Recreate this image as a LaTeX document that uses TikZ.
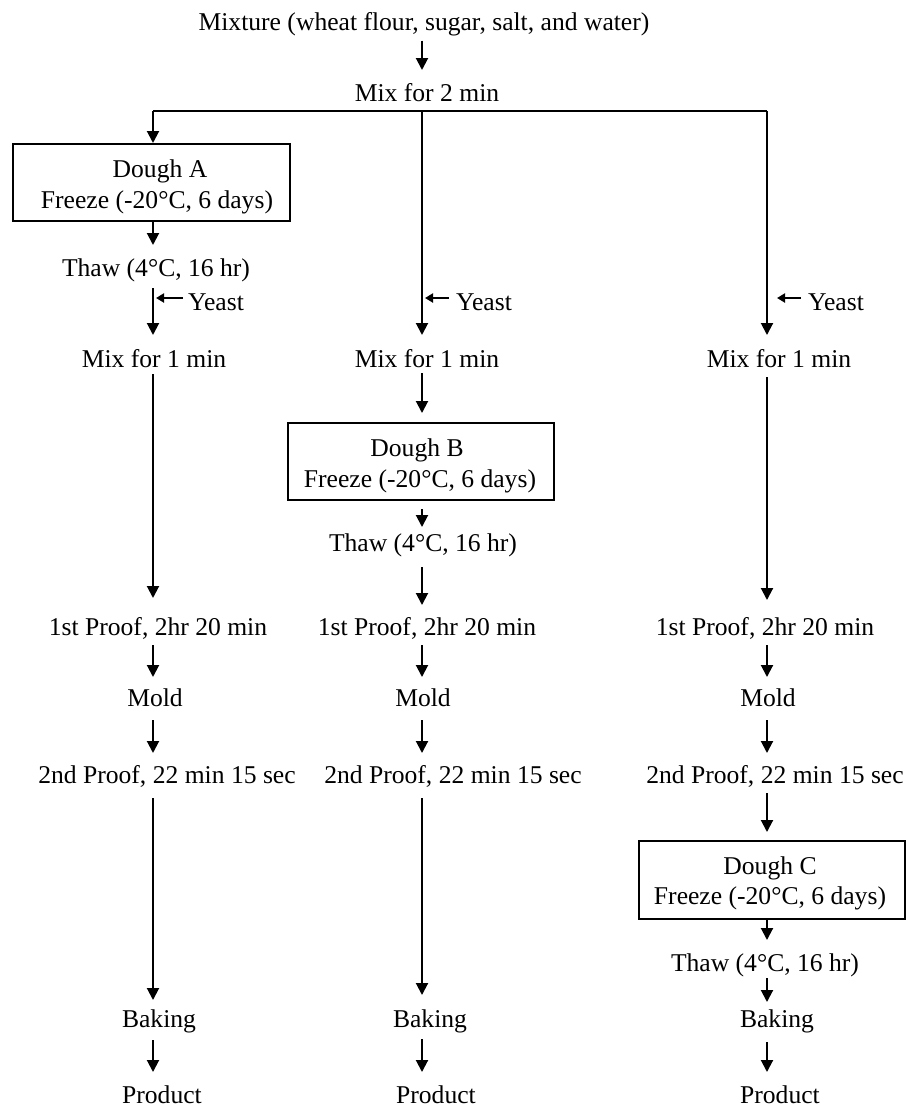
\documentclass[tikz,border=0pt]{standalone}
\usepackage{fontspec}
\setmainfont{Liberation Serif}
\usetikzlibrary{arrows.meta,calc}
\newcommand\dC{°C}
\begin{document}
\begin{tikzpicture}[x=1pt,y=-1pt,
  txt/.style={anchor=base,inner sep=0pt,font=\fontsize{25.6}{31}\selectfont},
  ytxt/.style={txt,anchor=base west},
  frame/.style={draw,line width=2pt,inner sep=0pt,anchor=north west},
  ln/.style={line width=2pt},
  arr/.style={line width=2pt,-{Triangle[width=12pt,length=12pt]}},
  yarr/.style={line width=2pt,-{Triangle[width=9pt,length=8pt]}}]
\useasboundingbox (0,0) rectangle (907,1109);
\coordinate (c1) at (153,0);
\coordinate (c2) at (422,0);
\coordinate (c3) at (767,0);
\coordinate (bar1) at (153,111);
\coordinate (bar2) at (422,111);
\coordinate (bar3) at (767,111);

% top
\node[txt] (mixture) at (424,30.5) {Mixture (wheat flour, sugar, salt, and water)};
\node[txt] (mix2) at (427,101) {Mix for 2 min};

% column 1
\node[frame,minimum width=277pt,minimum height=77pt] (boxA) at (12,143) {};
\node[txt] (doughA) at (160,177) {Dough A};
\node[txt] (freezeA) at (157,208) {Freeze (-20\dC, 6 days)};
\node[txt] (thawA) at (156,276) {Thaw (4\dC, 16 hr)};
\node[ytxt] (yeastA) at (188,310) {Yeast};
\node[txt] (mixA) at (154,367) {Mix for 1 min};
\node[txt] (proofA) at (158,635) {1st Proof, 2hr 20 min};
\node[txt] (moldA) at (155,706) {Mold};
\node[txt] (p2A) at (167,783) {2nd Proof, 22 min 15 sec};
\node[txt] (bakeA) at (159,1027) {Baking};
\node[txt] (prodA) at (162,1103) {Product};

% column 2
\node[ytxt] (yeastB) at (456,310) {Yeast};
\node[txt] (mixB) at (427,367) {Mix for 1 min};
\node[frame,minimum width=266pt,minimum height=77pt] (boxB) at (287,422) {};
\node[txt] (doughB) at (417,456) {Dough B};
\node[txt] (freezeB) at (420,487) {Freeze (-20\dC, 6 days)};
\node[txt] (thawB) at (423,551) {Thaw (4\dC, 16 hr)};
\node[txt] (proofB) at (427,635) {1st Proof, 2hr 20 min};
\node[txt] (moldB) at (423,706) {Mold};
\node[txt] (p2B) at (453,783) {2nd Proof, 22 min 15 sec};
\node[txt] (bakeB) at (430,1027) {Baking};
\node[txt] (prodB) at (436,1103) {Product};

% column 3
\node[ytxt] (yeastC) at (808,310) {Yeast};
\node[txt] (mixC) at (779,367) {Mix for 1 min};
\node[txt] (proofC) at (765,635) {1st Proof, 2hr 20 min};
\node[txt] (moldC) at (768,706) {Mold};
\node[txt] (p2C) at (775,783) {2nd Proof, 22 min 15 sec};
\node[frame,minimum width=266pt,minimum height=78pt] (boxC) at (638,840) {};
\node[txt] (doughC) at (770,874) {Dough C};
\node[txt] (freezeC) at (770,904) {Freeze (-20\dC, 6 days)};
\node[txt] (thawC) at (765,971) {Thaw (4\dC, 16 hr)};
\node[txt] (bakeC) at (777,1027) {Baking};
\node[txt] (prodC) at (780,1103) {Product};

% top connectors
\draw[arr] ($(mixture.base -| c2)+(0,10)$) -- ($(mix2.base -| c2)+(0,-31)$);
\draw[ln] (bar1) -- (bar3);

% column 1 connectors
\draw[arr] (bar1) -- (boxA.north -| c1);
\draw[arr] (boxA.south -| c1) -- ($(thawA.base -| c1)+(0,-31)$);
\draw[arr] ($(thawA.base -| c1)+(0,12)$) -- ($(mixA.base -| c1)+(0,-32)$);
\draw[yarr] ($(yeastA.base west)+(-5,-12)$) -- ($(yeastA.base west -| c1)+(3,-12)$);
\draw[arr] ($(mixA.base -| c1)+(0,7)$) -- ($(proofA.base -| c1)+(0,-37)$);
\draw[arr] ($(proofA.base -| c1)+(0,10)$) -- ($(moldA.base -| c1)+(0,-29)$);
\draw[arr] ($(moldA.base -| c1)+(0,14)$) -- ($(p2A.base -| c1)+(0,-30)$);
\draw[arr] ($(p2A.base -| c1)+(0,15)$) -- ($(bakeA.base -| c1)+(0,-27)$);
\draw[arr] ($(bakeA.base -| c1)+(0,13)$) -- ($(prodA.base -| c1)+(0,-31)$);

% column 2 connectors
\draw[arr] (bar2) -- ($(mixB.base -| c2)+(0,-32)$);
\draw[yarr] ($(yeastB.base west)+(-7,-12)$) -- ($(yeastB.base west -| c2)+(3,-12)$);
\draw[arr] ($(mixB.base -| c2)+(0,6)$) -- ($(boxB.north -| c2)+(0,-9)$);
\draw[arr] ($(boxB.south -| c2)+(0,8)$) -- ($(thawB.base -| c2)+(0,-24)$);
\draw[arr] ($(thawB.base -| c2)+(0,16)$) -- ($(proofB.base -| c2)+(0,-30)$);
\draw[arr] ($(proofB.base -| c2)+(0,10)$) -- ($(moldB.base -| c2)+(0,-29)$);
\draw[arr] ($(moldB.base -| c2)+(0,14)$) -- ($(p2B.base -| c2)+(0,-30)$);
\draw[arr] ($(p2B.base -| c2)+(0,15)$) -- ($(bakeB.base -| c2)+(0,-32)$);
\draw[arr] ($(bakeB.base -| c2)+(0,12)$) -- ($(prodB.base -| c2)+(0,-31)$);

% column 3 connectors
\draw[arr] (bar3) -- ($(mixC.base -| c3)+(0,-32)$);
\draw[yarr] ($(yeastC.base west)+(-7,-12)$) -- ($(yeastC.base west -| c3)+(10,-12)$);
\draw[arr] ($(mixC.base -| c3)+(0,10)$) -- ($(proofC.base -| c3)+(0,-35)$);
\draw[arr] ($(proofC.base -| c3)+(0,10)$) -- ($(moldC.base -| c3)+(0,-29)$);
\draw[arr] ($(moldC.base -| c3)+(0,14)$) -- ($(p2C.base -| c3)+(0,-30)$);
\draw[arr] ($(p2C.base -| c3)+(0,10)$) -- ($(boxC.north -| c3)+(0,-8)$);
\draw[arr] (boxC.south -| c3) -- ($(thawC.base -| c3)+(0,-31)$);
\draw[arr] ($(thawC.base -| c3)+(0,7)$) -- ($(bakeC.base -| c3)+(0,-25)$);
\draw[arr] ($(bakeC.base -| c3)+(0,15)$) -- ($(prodC.base -| c3)+(0,-31)$);
\end{tikzpicture}
\end{document}
